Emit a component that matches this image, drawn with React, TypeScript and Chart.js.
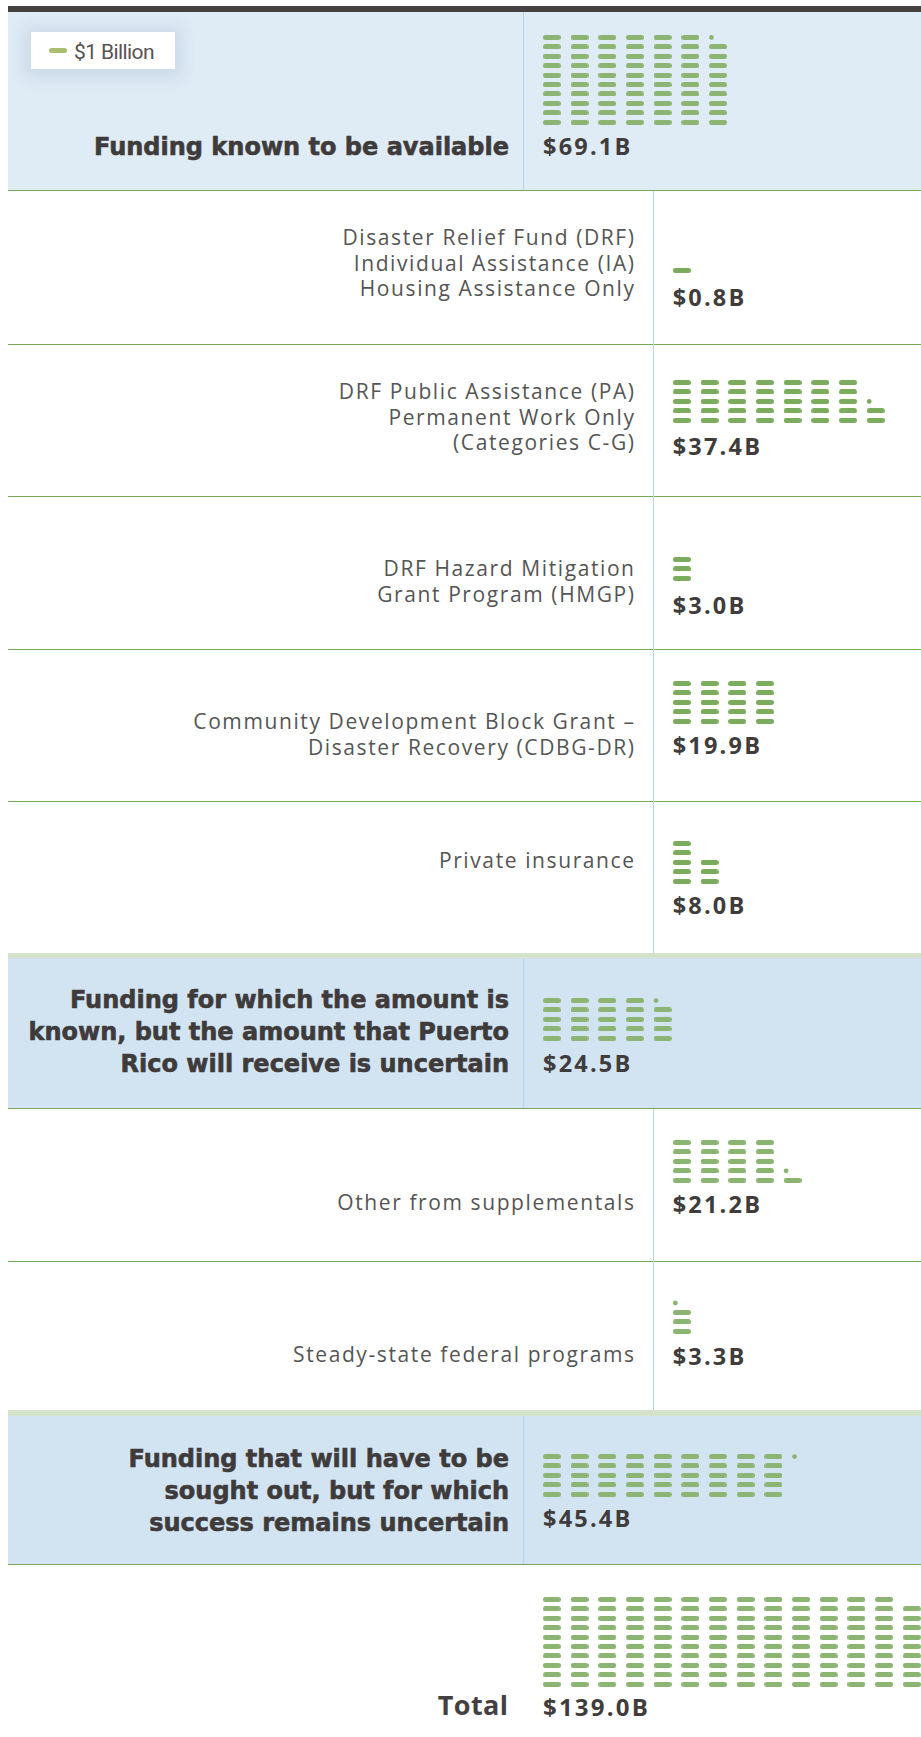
import React, { useEffect, useRef } from "react";
import { Chart, registerables } from "chart.js";

Chart.register(...registerables);

// ---------------- DATA ----------------
const categories = [
  "Funding known to be available",
  "Disaster Relief Fund (DRF)\nIndividual Assistance (IA)\nHousing Assistance Only",
  "DRF Public Assistance (PA)\nPermanent Work Only\n(Categories C-G)",
  "DRF Hazard Mitigation\nGrant Program (HMGP)",
  "Community Development Block Grant –\nDisaster Recovery (CDBG-DR)",
  "Private insurance",
  "Funding for which the amount is\nknown, but the amount that Puerto\nRico will receive is uncertain",
  "Other from supplementals",
  "Steady-state federal programs",
  "Funding that will have to be\nsought out, but for which\nsuccess remains uncertain",
  "Total",
];
const amountsB = [69.1, 0.8, 37.4, 3.0, 19.9, 8.0, 24.5, 21.2, 3.3, 45.4, 139.0];
const valueLabels = ["$69.1B", "$0.8B", "$37.4B", "$3.0B", "$19.9B", "$8.0B", "$24.5B", "$21.2B", "$3.3B", "$45.4B", "$139.0B"];
// icons shown: one dash = $1 billion, a dot = a fraction
const dashCounts = [69, 1, 37, 3, 20, 8, 24, 21, 3, 45, 139];
const dashesPerColumn = [10, 5, 5, 5, 5, 5, 5, 5, 5, 5, 10];
const dotRows: (number | null)[] = [9, null, 2, null, null, null, 4, 1, 3, 4, null];
const legendLabel = "$1 Billion";

// ---------------- LAYOUT ----------------
const PAGE_W = 921;
const PAGE_H = 1737;
const PX = 27.69; // column pitch
const PY = 9.43; // row pitch
const DASH_W = 18;
const DASH_H = 5;
const DOT_SHIFT = 6.5 / PX;

type Kind = "head" | "sub" | "total";
const kinds: Kind[] = ["head", "sub", "sub", "sub", "sub", "sub", "head", "sub", "sub", "head", "total"];
// baseline of the value text
const valueBaselines = [155, 305.5, 455, 613.6, 754.4, 914, 1072, 1213, 1365, 1527, 1716];
// center of bottom row of icons
const iconBottoms = [122.7, 270.4, 420.7, 578.5, 721.5, 881, 1038.3, 1180, 1331.3, 1494, 1684];
// baseline of first line of sub labels / last line of headers
const labelBaselines = [155, 245.8, 399.8, 577.2, 730, 868.7, 1072, 1211, 1363, 1531, 1715];
const iconColors = ["#8cb574", "#7bab5c", "#7bab5c", "#7bab5c", "#7bab5c", "#7bab5c", "#8cb574", "#8ab470", "#8ab470", "#8cb574", "#8cb574"];

const measureCanvas = typeof document !== "undefined" ? document.createElement("canvas") : null;
function ascDesc(font: string): [number, number] {
  const ctx = measureCanvas!.getContext("2d")!;
  ctx.font = font;
  const m = ctx.measureText("Hg");
  return [m.fontBoundingBoxAscent, m.fontBoundingBoxDescent];
}

type TxtProps = {
  text: string;
  firstBaseline: number;
  x: number;
  align: "left" | "right";
  family: string;
  weight: number;
  size: number;
  lh: number;
  color: string;
  ls?: number;
  stroke?: number;
};

function Txt(p: TxtProps) {
  const [a, d] = ascDesc(`${p.weight} ${p.size}px ${p.family}`);
  const top = p.firstBaseline - ((p.lh - (a + d)) / 2 + a);
  const style: React.CSSProperties = {
    position: "absolute",
    top,
    whiteSpace: "pre",
    fontFamily: p.family,
    fontWeight: p.weight,
    fontSize: p.size,
    lineHeight: p.lh + "px",
    color: p.color,
    letterSpacing: (p.ls || 0) + "px",
    margin: 0,
  };
  if (p.stroke) {
    (style as any).WebkitTextStroke = `${p.stroke}px ${p.color}`;
  }
  if (p.align === "right") {
    style.right = PAGE_W - p.x - (p.ls || 0);
    style.textAlign = "right";
  } else {
    style.left = p.x;
  }
  return <div style={style}>{p.text}</div>;
}

function makeDash(color: string) {
  const c = document.createElement("canvas");
  c.width = DASH_W;
  c.height = DASH_H;
  const ctx = c.getContext("2d")!;
  const r = DASH_H / 2;
  ctx.fillStyle = color;
  ctx.beginPath();
  ctx.moveTo(r, 0);
  ctx.lineTo(DASH_W - r, 0);
  ctx.arc(DASH_W - r, r, r, -Math.PI / 2, Math.PI / 2);
  ctx.lineTo(r, DASH_H);
  ctx.arc(r, r, r, Math.PI / 2, (3 * Math.PI) / 2);
  ctx.closePath();
  ctx.fill();
  return c;
}

function Waffle({ idx, left }: { idx: number; left: number }) {
  const ref = useRef<HTMLCanvasElement>(null);
  const per = dashesPerColumn[idx];
  const n = dashCounts[idx];
  const dot = dotRows[idx];
  const cols = Math.ceil(n / per) + (dot !== null && n % per === 0 ? 1 : 0);
  const W = Math.round(cols * PX);
  const H = Math.round(per * PY);
  const color = iconColors[idx];
  const cLeft = left + DASH_W / 2 - PX / 2;
  const cTop = iconBottoms[idx] + PY / 2 - H;

  useEffect(() => {
    if (!ref.current) return;
    const dash = makeDash(color);
    const dashPts: { x: number; y: number }[] = [];
    for (let i = 0; i < n; i++) dashPts.push({ x: Math.floor(i / per), y: i % per });
    const dotPts = dot !== null ? [{ x: Math.floor(n / per) - DOT_SHIFT, y: dot }] : [];
    const chart = new Chart(ref.current, {
      type: "scatter",
      data: {
        datasets: [
          {
            data: dashPts,
            pointStyle: dash as any,
            pointRadius: 9,
            pointHoverRadius: 9,
            backgroundColor: color,
            borderWidth: 0,
            clip: false as any,
          },
          {
            data: dotPts,
            pointStyle: "circle",
            pointRadius: 2.4,
            pointHoverRadius: 2.4,
            backgroundColor: color,
            borderWidth: 0,
            clip: false as any,
          },
        ],
      },
      options: {
        animation: false,
        responsive: false,
        devicePixelRatio: 1,
        events: [],
        layout: { padding: 0, autoPadding: false },
        plugins: { legend: { display: false }, tooltip: { enabled: false } },
        scales: {
          x: { type: "linear", display: false, min: -0.5, max: W / PX - 0.5 },
          y: { type: "linear", display: false, min: -0.5, max: H / PY - 0.5 },
        },
      },
    });
    return () => chart.destroy();
  }, []);

  return (
    <canvas
      ref={ref}
      width={W}
      height={H}
      style={{ position: "absolute", left: cLeft, top: cTop, width: W, height: H }}
    />
  );
}

const box = (left: number, top: number, width: number, height: number, bg: string): React.CSSProperties => ({
  position: "absolute",
  left,
  top,
  width,
  height,
  background: bg,
});

const HEAD_FONT = "'DejaVu Sans'";
const BODY_FONT = "'Open Sans'";

export default function App() {
  const L = 8;
  const W = PAGE_W - L;
  const green = "#78a957";
  const lightGreen = "#d5e3cc";
  const divider = "#b5d6ef";
  const blueA = "#dfebf5";
  const blueB = "#d2e4f2";

  const subRows = [
    [190.5, 343.5],
    [343.5, 496],
    [496, 648.5],
    [648.5, 801],
    [801, 953],
    [1108.5, 1261],
    [1261, 1410],
  ];

  return (
    <div style={{ position: "absolute", left: 0, top: 0, width: PAGE_W, height: PAGE_H, overflow: "hidden", background: "#fff" }}>
      {/* top dark bar */}
      <div style={box(L, 6, W, 6, "#454141")} />
      {/* Section A */}
      <div style={box(L, 12, W, 178, blueA)} />
      <div style={box(523, 12, 1, 178, divider)} />
      <div style={box(L, 190, W, 1, green)} />
      {/* sub rows */}
      {subRows.map(([t, b], i) => (
        <React.Fragment key={i}>
          <div style={box(653, t, 1, b - t, divider)} />
          {i !== 4 && i !== 6 && <div style={box(L, Math.round(b), W, 1, green)} />}
        </React.Fragment>
      ))}
      {/* band + Section B */}
      <div style={box(L, 953, W, 5, lightGreen)} />
      <div style={box(L, 958, W, 150, blueB)} />
      <div style={box(523, 958, 1, 150, divider)} />
      <div style={box(L, 1108, W, 1, green)} />
      {/* band + Section C */}
      <div style={box(L, 1410, W, 6, lightGreen)} />
      <div style={box(L, 1416, W, 148, blueB)} />
      <div style={box(523, 1416, 1, 148, divider)} />
      <div style={box(L, 1564, W, 1, green)} />

      {/* legend */}
      <div
        style={{
          ...box(31, 32, 144, 37, "#fff"),
          boxShadow: "0 2px 16px 6px rgba(70,95,140,0.13)",
        }}
      />
      <div style={{ ...box(49, 48, 18, 5, "#a9be6f"), borderRadius: 2.5 }} />
      <Txt text={legendLabel} firstBaseline={58.5} x={74} align="left" family="Roboto" weight={400} size={21} lh={24} color="#575252" ls={-0.6} />

      {categories.map((cat, i) => {
        const k = kinds[i];
        const lines = cat.split("\n");
        const valueX = k === "sub" ? 672.7 : 543;
        return (
          <React.Fragment key={i}>
            {k === "head" && (
              <Txt
                text={cat}
                firstBaseline={labelBaselines[i] - (lines.length - 1) * 32}
                x={509}
                align="right"
                family={HEAD_FONT}
                weight={700}
                size={24}
                lh={32}
                color="#403b3b"
                ls={0}
                stroke={0.6}
              />
            )}
            {k === "total" && (
              <Txt text={cat} firstBaseline={labelBaselines[i]} x={508} align="right" family={BODY_FONT} weight={700} size={27} lh={34} color="#444040" ls={0.4} />
            )}
            {k === "sub" && (
              <Txt text={cat} firstBaseline={labelBaselines[i]} x={634} align="right" family={BODY_FONT} weight={400} size={21} lh={25.5} color="#555555" ls={1.6} />
            )}
            <Txt
              text={valueLabels[i]}
              firstBaseline={valueBaselines[i]}
              x={valueX}
              align="left"
              family={BODY_FONT}
              weight={700}
              size={k === "total" ? 24 : 23.5}
              lh={30}
              color="#403c3c"
              ls={2.2}
            />
            <Waffle idx={i} left={k === "sub" ? 672.7 : 542.7} />
          </React.Fragment>
        );
      })}
    </div>
  );
}
